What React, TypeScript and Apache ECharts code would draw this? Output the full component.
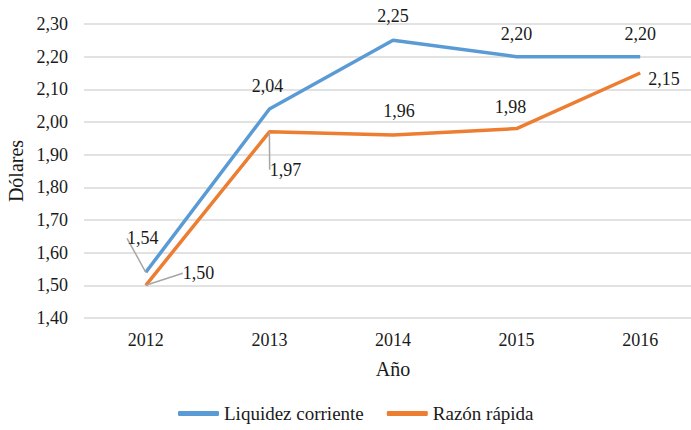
import React, { useEffect, useRef } from "react";
import * as echarts from "echarts";

const years = ["2012", "2013", "2014", "2015", "2016"];
const liquidez = [1.54, 2.04, 2.25, 2.2, 2.2];
const razon = [1.5, 1.97, 1.96, 1.98, 2.15];
const yMin = 1.4;
const yMax = 2.3;
const yStep = 0.1;

const FONT = "Liberation Serif";
const fmt = (v: number) => v.toFixed(2).replace(".", ",");

// label placement per point (style only)
const blueLabel: any[] = [
  { position: "top", distance: 5 },
  { position: "top", distance: 14 },
  { position: "top", distance: 15 },
  { position: "top", distance: 14 },
  { position: "top", distance: 14 },
];
const orangeLabel: any[] = [
  { position: "right", distance: 5 },
  { position: "bottom", distance: 5 },
  { position: "top", distance: 15 },
  { position: "top", distance: 13 },
  { position: "right", distance: 8 },
];
const blueMove: Record<number, [number, number]> = { 0: [-3, -20], 1: [-2, 0] };
const orangeMove: Record<number, [number, number]> = { 0: [32, -12], 1: [16, 24], 2: [6, 0], 3: [-6, 0], 4: [0, 6] };
const blueLine = [0];
const orangeLine = [0, 1];

export default function App() {
  const ref = useRef<HTMLDivElement>(null);
  useEffect(() => {
    document.body.style.margin = "0";
    if (!ref.current) return;
    const chart = echarts.init(ref.current, undefined, { renderer: "svg" });
    const mk = (vals: number[], labels: any[], lines: number[]) =>
      vals.map((v, i) => ({
        value: v,
        label: labels[i],
        labelLine: { show: lines.includes(i), lineStyle: { color: "#a6a6a6", width: 1.5 } },
      }));
    const layoutFn = (moves: Record<number, [number, number]>) => (p: any) => {
      const m = moves[p.dataIndex];
      return m ? { dx: m[0], dy: m[1] } : {};
    };
    const labelBase = {
      show: true,
      fontFamily: FONT,
      fontSize: 18,
      color: "#1a1a1a",
      formatter: (p: any) => fmt(p.value),
    };
    chart.setOption({
      animation: false,
      backgroundColor: "#ffffff",
      textStyle: { fontFamily: FONT },
      grid: { left: 84, top: 24, height: 294, width: 618, containLabel: false, outerBoundsMode: "none" },
      legend: {
        data: ["Liquidez corriente", "Razón rápida"],
        top: 404,
        left: 178,
        padding: 0,
        icon: "roundRect",
        itemWidth: 41,
        itemHeight: 5,
        itemGap: 23,
        textStyle: { fontFamily: FONT, fontSize: 19, color: "#1a1a1a" },
      },
      xAxis: {
        type: "category",
        data: years,
        boundaryGap: true,
        name: "Año",
        nameLocation: "middle",
        nameGap: 41,
        nameTextStyle: { fontFamily: FONT, fontSize: 20, color: "#1a1a1a" },
        axisLine: { show: false },
        axisTick: { show: false },
        axisLabel: { fontFamily: FONT, fontSize: 18, color: "#1a1a1a", margin: 13 },
      },
      yAxis: {
        type: "value",
        min: yMin,
        max: yMax,
        interval: yStep,
        name: "Dólares",
        nameLocation: "middle",
        nameGap: 56,
        nameTextStyle: { fontFamily: FONT, fontSize: 20, color: "#1a1a1a" },
        axisLine: { show: false },
        axisTick: { show: false },
        axisLabel: {
          fontFamily: FONT,
          fontSize: 18,
          color: "#1a1a1a",
          margin: 16,
          formatter: (v: number) => fmt(v),
        },
        splitLine: { lineStyle: { color: "#d9d9d9", width: 1.5 } },
      },
      series: [
        {
          name: "Liquidez corriente",
          type: "line",
          data: mk(liquidez, blueLabel, blueLine),
          color: "#5b9bd5",
          itemStyle: { color: "#5b9bd5" },
          lineStyle: { width: 3.5, color: "#5b9bd5" },
          showSymbol: true,
          symbol: "circle",
          symbolSize: 0,
          label: labelBase,
          labelLayout: layoutFn(blueMove),
          z: 3,
        },
        {
          name: "Razón rápida",
          type: "line",
          data: mk(razon, orangeLabel, orangeLine),
          color: "#ed7d31",
          itemStyle: { color: "#ed7d31" },
          lineStyle: { width: 3.5, color: "#ed7d31" },
          showSymbol: true,
          symbol: "circle",
          symbolSize: 0,
          label: labelBase,
          labelLayout: layoutFn(orangeMove),
          z: 2,
        },
      ],
    });
    return () => chart.dispose();
  }, []);
  return <div ref={ref} style={{ width: 691, height: 430 }} />;
}
